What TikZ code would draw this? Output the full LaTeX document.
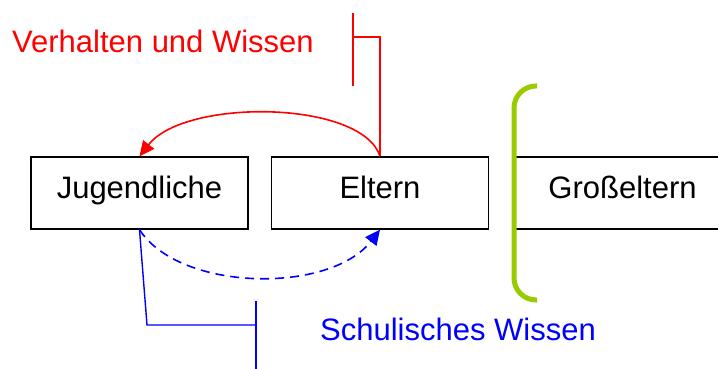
\documentclass[tikz,border=0pt]{standalone}
\usepackage{fontspec}
\setmainfont{Liberation Sans}
\usetikzlibrary{arrows.meta}
\definecolor{brgreen}{RGB}{153,204,0}
\tikzset{
  person/.style={draw=black, line width=1.4pt, minimum width=217pt, minimum height=72pt,
    inner sep=0pt, text height=22pt, text depth=12pt, font=\fontsize{31}{37}\selectfont},
  lbl/.style={anchor=base west, inner sep=0pt, font=\fontsize{31}{37}\selectfont},
  flow/.style={line width=1.6pt, -{Triangle[length=15pt,width=14pt]}},
  callout/.style={line width=1.4pt},
}
\begin{document}
\begin{tikzpicture}[x=1pt,y=-1pt]
\useasboundingbox (0,0) rectangle (718,369);

% generations
\node[person] (jug) at (139.5,193) {Jugendliche};
\node[person] (elt) at (380,193) {Eltern};
\node[person] (gro) at (622.5,193) {Großeltern};

% bracket in front of the grandparents
\draw[brgreen, line width=5pt, rounded corners=22pt] (537,86) -- (514,86) -- (514,300) -- (537,300);

% transfer of behaviour and knowledge (parents -> youth)
\draw[red, flow] (elt.north) .. controls (362,100) and (185,98) .. (jug.north);
% transfer of school knowledge (youth -> parents)
\draw[blue, flow, dashed, dash pattern=on 9pt off 6pt] (jug.south) .. controls (180,292) and (330,294) .. (elt.south);

% labels with their callouts
\node[lbl, red] (lv) at (12,53) {Verhalten und Wissen};
\coordinate (rt) at (353,13);
\coordinate (rb) at (353,86);
\draw[red, callout] (elt.north) -- (380,37) -- (353,37);
\draw[red, callout] (rt) -- (rb);

\node[lbl, blue] (ls) at (320,340) {Schulisches Wissen};
\coordinate (bt) at (256,301);
\coordinate (bb) at (256,369);
\draw[blue, callout] (jug.south) -- (147,325) -- (256,325);
\draw[blue, callout] (bt) -- (bb);
\end{tikzpicture}
\end{document}
